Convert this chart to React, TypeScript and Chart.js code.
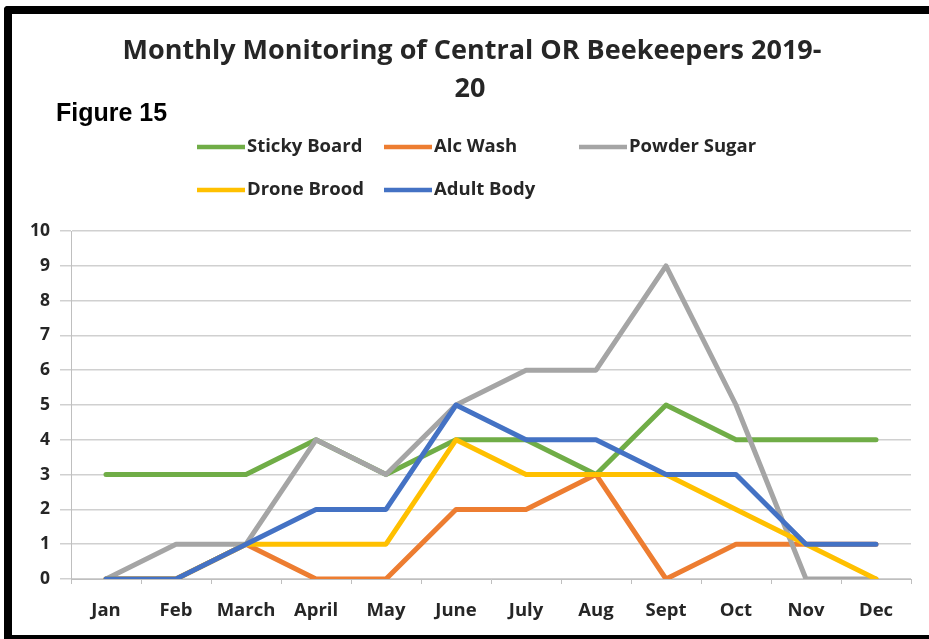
import React, { useEffect, useRef } from "react";
import { Chart, registerables } from "chart.js";

Chart.register(...registerables);

const months = ["Jan", "Feb", "March", "April", "May", "June", "July", "Aug", "Sept", "Oct", "Nov", "Dec"];
const stickyBoard = [3, 3, 3, 4, 3, 4, 4, 3, 5, 4, 4, 4];
const alcWash = [0, 0, 1, 0, 0, 2, 2, 3, 0, 1, 1, 1];
const powderSugar = [0, 1, 1, 4, 3, 5, 6, 6, 9, 5, 0, 0];
const droneBrood = [0, 0, 1, 1, 1, 4, 3, 3, 3, 2, 1, 0];
const adultBody = [0, 0, 1, 2, 2, 5, 4, 4, 3, 3, 1, 1];
const yTicks = [0, 1, 2, 3, 4, 5, 6, 7, 8, 9, 10];

const titleLines = ["Monthly Monitoring of Central OR Beekeepers 2019-", "20"];
const figureLabel = "Figure 15";

const COLORS = {
  green: "#70AD47",
  orange: "#ED7D31",
  gray: "#A5A5A5",
  yellow: "#FFC000",
  blue: "#4472C4",
};

const TEXT_FONT = '"Open Sans", "Lato", sans-serif';
const TEXT_COLOR = "#262626";

const decorPlugin = {
  id: "decor",
  afterDraw(chart: any) {
    const ctx = chart.ctx;
    ctx.save();
    // Title
    ctx.fillStyle = TEXT_COLOR;
    ctx.textAlign = "center";
    ctx.textBaseline = "middle";
    ctx.font = `bold 27px ${TEXT_FONT}`;
    ctx.fillText(titleLines[0], 472, 51);
    ctx.fillText(titleLines[1], 470, 89);
    // Figure label
    ctx.fillStyle = "#000000";
    ctx.textAlign = "left";
    ctx.font = 'bold 25px "Liberation Sans", Arial, sans-serif';
    ctx.fillText(figureLabel, 56, 114);
    // Legend (custom grid)
    const pos = [
      [197, 147],
      [384, 147],
      [579, 147],
      [197, 190],
      [384, 190],
    ];
    const ds = chart.data.datasets;
    ctx.font = `bold 18.5px ${TEXT_FONT}`;
    ctx.textBaseline = "middle";
    for (let i = 0; i < ds.length; i++) {
      const [x, y] = pos[i];
      ctx.strokeStyle = ds[i].borderColor;
      ctx.lineWidth = 4.5;
      ctx.lineCap = "butt";
      ctx.beginPath();
      ctx.moveTo(x, y);
      ctx.lineTo(x + 48, y);
      ctx.stroke();
      ctx.fillStyle = TEXT_COLOR;
      ctx.fillText(ds[i].label, x + 50, y);
    }
    ctx.restore();
  },
};

export default function App() {
  const ref = useRef<HTMLCanvasElement | null>(null);

  useEffect(() => {
    if (!ref.current) return;
    const mk = (label: string, data: number[], color: string, order: number) => ({
      label,
      data,
      borderColor: color,
      backgroundColor: color,
      borderWidth: 5,
      pointRadius: 0,
      pointHoverRadius: 0,
      tension: 0,
      fill: false,
      borderJoinStyle: "round" as const,
      borderCapStyle: "round" as const,
      order,
    });
    const chart = new Chart(ref.current, {
      type: "line",
      data: {
        labels: months,
        datasets: [
          mk("Sticky Board", stickyBoard, COLORS.green, 5),
          mk("Alc Wash", alcWash, COLORS.orange, 4),
          mk("Powder Sugar", powderSugar, COLORS.gray, 3),
          mk("Drone Brood", droneBrood, COLORS.yellow, 2),
          mk("Adult Body", adultBody, COLORS.blue, 1),
        ],
      },
      options: {
        responsive: false,
        animation: false,
        devicePixelRatio: 1,
        layout: { padding: { top: 231, left: 12, right: 18, bottom: 0 } },
        plugins: {
          legend: { display: false },
          title: { display: false },
          tooltip: { enabled: false },
        },
        scales: {
          x: {
            offset: true,
            grid: {
              display: true,
              offset: true,
              drawOnChartArea: false,
              drawTicks: true,
              tickLength: 5,
              color: "#BFBFBF",
              lineWidth: 1,
            },
            border: { display: true, color: "#BFBFBF", width: 1 },
            ticks: {
              color: TEXT_COLOR,
              padding: 16,
              font: { family: TEXT_FONT, size: 18.5, weight: "bold" },
              maxRotation: 0,
              autoSkip: false,
            },
            afterFit: (s: any) => {
              s.height = 60;
            },
          },
          y: {
            min: 0,
            max: 10,
            afterBuildTicks: (s: any) => {
              s.ticks = yTicks.map((v) => ({ value: v }));
            },
            grid: {
              color: "#D0D0D0",
              lineWidth: 1.5,
              drawTicks: true,
              tickLength: 11,
            },
            border: { display: true, color: "#BFBFBF", width: 1 },
            ticks: {
              color: TEXT_COLOR,
              padding: 10,
              font: { family: TEXT_FONT, size: 17.5, weight: "bold" },
            },
            afterFit: (s: any) => {
              s.width = 59;
            },
          },
        },
      },
      plugins: [decorPlugin],
    });
    return () => chart.destroy();
  }, []);

  return (
    <div style={{ position: "absolute", left: 0, top: 0, width: 929, height: 639, background: "#fff", overflow: "hidden" }}>
      <canvas ref={ref} width={929} height={639} style={{ position: "absolute", left: 0, top: 0, width: 929, height: 639 }} />
      <div style={{ position: "absolute", left: 4, top: 6, width: 925, height: 8, background: "#000", borderTopLeftRadius: 4 }} />
      <div style={{ position: "absolute", left: 4, top: 6, width: 8, height: 633, background: "#000", borderTopLeftRadius: 4 }} />
      <div style={{ position: "absolute", left: 4, top: 635, width: 925, height: 4, background: "#000" }} />
    </div>
  );
}
